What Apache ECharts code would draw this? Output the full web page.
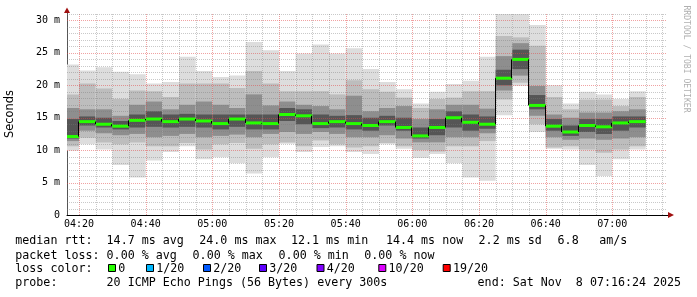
<!DOCTYPE html>
<html><head><meta charset="utf-8">
<script src="https://cdn.jsdelivr.net/npm/echarts@6/dist/echarts.min.js"></script>
<style>html,body{margin:0;padding:0;background:#fff}#c{width:697px;height:297px}</style>
</head><body><div id="c"></div>
<script>
// ---- data ----
const times = ["04:15","04:20","04:25","04:30","04:35","04:40","04:45","04:50","04:55",
  "05:00","05:05","05:10","05:15","05:20","05:25","05:30","05:35","05:40","05:45","05:50","05:55",
  "06:00","06:05","06:10","06:15","06:20","06:25","06:30","06:35","06:40","06:45","06:50","06:55",
  "07:00","07:05"];
// smoke band boundaries (ms), lowest ping ... highest ping
const pMin = [9.9,10.9,10.1,7.7,5.8,8.4,9.7,10.6,8.6,8.9,8.0,6.4,8.9,11.0,9.7,10.5,10.6,9.7,9.4,10.9,10.2,8.8,9.4,8.0,5.8,5.3,15.4,19.9,12.8,10.2,10.1,7.7,6.0,8.6,10.1];
const pLo1 = [10.6,11.9,11.2,10.9,11.2,10.6,10.6,11.1,10.1,10.9,11.1,10.2,10.9,11.2,10.6,11.5,10.9,10.4,10.6,11.1,10.6,10.0,9.8,10.6,10.6,11.4,17.8,20.4,14.0,10.4,10.6,10.1,9.6,10.1,10.6];
const pLo2 = [11.4,13.0,12.6,12.3,12.5,12.0,12.2,12.5,12.0,12.2,12.4,12.0,12.5,12.8,12.5,12.8,12.5,12.0,12.0,12.3,11.8,11.2,11.2,12.0,12.0,12.6,19.2,21.5,15.3,12.0,11.6,11.8,11.6,11.8,12.0];
const pLo3 = [11.8,13.8,13.5,13.2,13.5,13.6,13.5,13.6,13.5,13.2,13.6,13.2,13.2,14.5,14.0,13.4,13.5,13.2,13.0,13.8,13.0,11.8,12.3,13.5,13.0,13.3,20.0,22.5,16.3,13.0,12.2,12.8,12.5,13.0,13.5];
const pHi3 = [14.8,15.2,15.0,14.5,15.5,16.0,15.5,15.6,15.5,15.5,15.5,15.5,15.5,16.5,16.3,15.5,15.3,15.4,15.0,15.3,15.0,13.5,14.8,16.0,15.5,15.2,22.4,25.5,18.5,14.8,13.8,14.8,14.8,15.2,15.2];
const pHi2 = [16.5,16.3,16.3,15.3,17.0,17.5,16.3,17.0,17.5,17.0,16.5,18.6,16.9,17.5,17.0,16.8,16.3,18.4,16.0,16.5,16.8,14.8,16.3,17.0,17.0,16.4,24.5,26.5,19.9,15.5,15.0,15.8,15.8,16.0,16.3];
const pHi1 = [18.6,20.3,19.5,17.9,19.2,19.1,18.2,20.3,20.3,20.3,19.6,22.2,20.3,19.1,19.1,19.1,18.6,20.8,19.4,19.0,18.1,16.5,17.9,18.1,19.1,19.1,27.6,27.4,26.1,18.2,16.3,17.8,17.8,16.8,18.2];
const pMax = [23.2,22.3,22.8,22.1,21.7,20.3,20.5,24.4,22.2,21.3,21.5,26.7,25.4,22.2,24.9,26.3,24.9,25.7,22.5,20.5,19.4,17.2,19.0,20.2,20.7,24.4,31.0,31.0,29.3,20.0,17.2,19.0,18.6,17.9,19.1];
const median = [12.1,14.4,14.0,13.7,14.6,14.8,14.4,14.8,14.5,14.1,14.8,14.2,14.1,15.5,15.3,14.1,14.4,14.1,13.8,14.4,13.5,12.2,13.5,15.0,14.3,14.0,21.1,24.0,16.9,13.7,12.8,13.8,13.6,14.2,14.4];
const xTickLabels = ["04:20","04:40","05:00","05:20","05:40","06:00","06:20","06:40","07:00"];
const yTickValues = [0,5,10,15,20,25,30];
const yTickLabels = ["0","5 m","10 m","15 m","20 m","25 m","30 m"];
const startTime = "04:16:24", endTime = "07:16:24";
const stepMin = 5;
const yMax = 31;

const legendLine1 = [["median rtt:",16],["14.7 ms avg",107.3],["24.0 ms max",200],["12.1 ms min",291.7],["14.4 ms now",386.7],["2.2 ms sd",479.3],["6.8",558.3],["am/s",600]];
const legendLine2 = [["packet loss:",16],["0.00 % avg",107.3],["0.00 % max",193.3],["0.00 % min",279.3],["0.00 % now",365]];
const lossLabels = ["0","1/20","2/20","3/20","4/20","10/20","19/20"];
const lossColors = ["#26ff00","#00b8ff","#0059ff","#5e00ff","#7e00ff","#dd00ff","#ff0000"];
const lossBoxX = [108,146,203,259,316.5,378.3,442.7];
const legendLine4 = [["probe:",16],["20 ICMP Echo Pings (56 Bytes) every 300s",107.3],["end: Sat Nov  8 07:16:24 2025",478.3]];

// ---- helpers ----
function toMin(s){const p=s.split(':').map(Number);return p[0]*60+p[1]+(p[2]||0)/60;}
function fmt(m){const h=Math.floor(m/60),mm=Math.round(m-h*60);return String(h).padStart(2,'0')+':'+String(mm).padStart(2,'0');}
const xMin = toMin(startTime), xMax = toMin(endTime);

const smokeData = times.map((t,i)=>[toMin(t),pMin[i],pLo1[i],pLo2[i],pLo3[i],pHi3[i],pHi2[i],pHi1[i],pMax[i]]);
const medData = times.map((t,i)=>[toMin(t),median[i]]);
const bandColors = ['#dddddd','#bdbdbd','#8e8e8e','#555555'];

function renderSmoke(params, api){
  const t=api.value(0);
  const xs=api.coord([t,0])[0], xe=api.coord([t+stepMin,0])[0];
  const children=[];
  for(let k=0;k<4;k++){
    const lo=api.value(1+k), hi=api.value(8-k);
    const y0=api.coord([t,lo])[1], y1=api.coord([t,hi])[1];
    children.push({type:'rect',shape:{x:xs,y:y1,width:xe-xs,height:y0-y1},style:{fill:bandColors[k]}});
  }
  return {type:'group',children};
}
function renderMedian(params, api){
  const i=params.dataIndex;
  const t=api.value(0), v=api.value(1);
  const xs=api.coord([t,0])[0], xe=api.coord([t+stepMin,0])[0];
  const y=api.coord([t,v])[1];
  const children=[{type:'rect',shape:{x:xs,y:y-1.5,width:xe-xs,height:3},style:{fill:lossColors[0]}}];
  if(i>0){
    const yp=api.coord([t,median[i-1]])[1];
    children.push({type:'line',shape:{x1:Math.round(xs)-0.5,y1:yp,x2:Math.round(xs)-0.5,y2:y},style:{stroke:'#000',lineWidth:1}});
  }
  return {type:'group',children};
}
function renderGrid(params, api){
  const children=[];
  const top=api.coord([xMin,yMax])[1], bot=api.coord([xMin,0])[1];
  const left=api.coord([xMin,0])[0], right=api.coord([xMax,0])[0];
  for(let m=Math.ceil(xMin/stepMin)*stepMin;m<=xMax;m+=stepMin){
    const x=Math.round(api.coord([m,0])[0])+0.5;
    const major=(m%20===0);
    children.push({type:'line',shape:{x1:x,y1:top,x2:x,y2:bot},style:{stroke:major?'rgba(225,70,70,0.5)':'rgba(120,120,120,0.4)',lineWidth:1,lineDash:[1,1]}});
  }
  for(let v=1;v<=yMax;v++){
    const y=Math.round(api.coord([xMin,v])[1])+0.5;
    const major=(v%5===0);
    children.push({type:'line',shape:{x1:left,y1:y,x2:right,y2:y},style:{stroke:major?'rgba(225,70,70,0.5)':'rgba(120,120,120,0.4)',lineWidth:1,lineDash:[1,1]}});
  }
  return {type:'group',children};
}

const mono='"DejaVu Sans Mono", monospace';
const graphics=[];
function addText(txt,x,y){graphics.push({type:'text',x:x-0.7,y:y,style:{text:txt,font:'11.67px '+mono,fill:'#000',textAlign:'left',textVerticalAlign:'middle',verticalAlign:'middle'}});}
legendLine1.forEach(([t,x])=>addText(t,x,241));
legendLine2.forEach(([t,x])=>addText(t,x,255.5));
addText("loss color:",16,269);
lossLabels.forEach((l,i)=>{
  graphics.push({type:'rect',shape:{x:lossBoxX[i]+0.5,y:264.5,width:7,height:7},style:{fill:lossColors[i],stroke:'#000',lineWidth:1}});
  addText(l,lossBoxX[i]+11,269);
});
legendLine4.forEach(([t,x])=>addText(t,x,283.3));
// axis arrows
graphics.push({type:'polygon',shape:{points:[[64,13],[70,13],[67,7.5]]},style:{fill:'#a01010'}});
graphics.push({type:'polygon',shape:{points:[[668,212],[668,218],[674,215]]},style:{fill:'#a01010'}});
graphics.push({type:'line',shape:{x1:67.5,y1:13,x2:67.5,y2:15},style:{stroke:'#555',lineWidth:1}});
graphics.push({type:'line',shape:{x1:667,y1:215.5,x2:668,y2:215.5},style:{stroke:'#000',lineWidth:1}});
// titles
graphics.push({type:'text',x:10.5,y:114,rotation:Math.PI/2,style:{text:'Seconds',font:'11.4px "DejaVu Sans", sans-serif',fill:'#000',textAlign:'center',textVerticalAlign:'middle',verticalAlign:'middle'}});
graphics.push({type:'text',x:686,y:59,rotation:-Math.PI/2,style:{text:'RRDTOOL / TOBI OETIKER',font:'8.1px '+mono,fill:'#b0b0b0',textAlign:'center',textVerticalAlign:'middle',verticalAlign:'middle'}});

const chart=echarts.init(document.getElementById('c'),null,{renderer:'canvas'});
chart.setOption({
  animation:false,
  backgroundColor:'#fff',
  grid:{left:67,right:30,top:14,bottom:82},
  xAxis:{type:'value',min:xMin,max:xMax,
    axisLine:{show:true,onZero:false,lineStyle:{color:'#000',width:1}},
    axisTick:{show:false},splitLine:{show:false},
    axisLabel:{customValues:xTickLabels.map(toMin),formatter:v=>fmt(v),fontFamily:'DejaVu Sans Mono',fontSize:10,color:'#000',margin:4}},
  yAxis:{type:'value',min:0,max:yMax,
    axisLine:{show:true,lineStyle:{color:'#555',width:1}},
    axisTick:{show:false},splitLine:{show:false},
    axisLabel:{customValues:yTickValues,formatter:v=>{const i=yTickValues.indexOf(v);return i>=0?yTickLabels[i]:'';},fontFamily:'DejaVu Sans Mono',fontSize:10,color:'#000',margin:7}},
  series:[
    {type:'custom',name:'smoke',renderItem:renderSmoke,data:smokeData,clip:true,z:2,silent:true,encode:{x:0,y:[1,2,3,4,5,6,7,8]}},
    {type:'custom',name:'grid',renderItem:renderGrid,data:[[xMin,0]],clip:true,z:3,silent:true,encode:{x:0,y:1}},
    {type:'custom',name:'median',renderItem:renderMedian,data:medData,clip:true,z:4,silent:true,encode:{x:0,y:1}}
  ],
  graphic:graphics
});
</script></body></html>
